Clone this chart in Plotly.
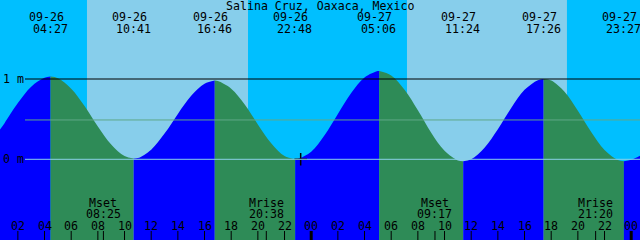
import plotly.graph_objects as go

# ---------------- data ----------------
title = "Salina Cruz, Oaxaca, Mexico"
days = ["09-26", "09-27"]

# hourly tide heights (m) (hours since 09-26 00:00)
sample_hours = [0.66, 1, 2, 3, 4, 5, 6, 7, 8, 9, 10, 11, 12, 13, 14, 15, 16, 17, 18, 19, 20,
                21, 22, 23, 24, 25, 26, 27, 28, 29, 30, 31, 32, 33, 34, 35, 36, 37, 38, 39,
                40, 41, 42, 43, 44, 45, 46, 47, 48, 48.66]
sample_heights = [0.37, 0.45, 0.70, 0.905, 1.015, 1.01, 0.88, 0.665, 0.41, 0.185, 0.04,
                  0.015, 0.12, 0.32, 0.565, 0.79, 0.94, 0.975, 0.88, 0.685, 0.435, 0.20,
                  0.04, 0.005, 0.095, 0.30, 0.565, 0.825, 1.02, 1.10, 1.045, 0.865, 0.61,
                  0.33, 0.105, -0.015, 0.0, 0.145, 0.375, 0.64, 0.865, 0.985, 0.98, 0.84,
                  0.605, 0.34, 0.115, -0.01, -0.005, 0.045]

# high / low tides
ext_dates = ["09-26", "09-26", "09-26", "09-26", "09-27", "09-27", "09-27", "09-27"]
ext_times = ["04:27", "10:41", "16:46", "22:48", "05:06", "11:24", "17:26", "23:27"]
ext_heights = [1.03, 0.01, 0.98, 0.0, 1.10, -0.025, 1.0, -0.025]

# daylight (sunrise / sunset)
sun_dates = ["09-26", "09-26", "09-27", "09-27"]
sun_times = ["07:11", "19:16", "07:11", "19:11"]

# moon events
moon_names = ["Mset", "Mrise", "Mset", "Mrise"]
moon_dates = ["09-26", "09-26", "09-27", "09-27"]
moon_times = ["08:25", "20:38", "09:17", "21:20"]

# hour ticks
tick_hours = list(range(2, 49, 2))
tick_labels = ["%02d" % (h % 24) for h in tick_hours]

now_hour = 23.21
now_height = 0.0

level_lines = [1.0, 0.49, 0.0]
level_labels = ["1 m", None, "0 m"]

# ---------------- helpers ----------------
X0, X1 = 0.66, 48.66
Y0, Y1 = -1.005, 1.984
H = 240


def to_hours(d, t):
    hh, mm = t.split(":")
    return days.index(d) * 24 + int(hh) + int(mm) / 60.0


def py(p):  # pixel row -> paper y
    return 1 - p / H


ext_hours = [to_hours(d, t) for d, t in zip(ext_dates, ext_times)]

pts = sorted(list(zip(sample_hours, sample_heights)) + list(zip(ext_hours, ext_heights)))

fig = go.Figure()

# fill segments between extremes
bounds = [X0] + ext_hours + [X1]
for a, b in zip(bounds[:-1], bounds[1:]):
    seg = [(h, v) for h, v in pts if a - 1e-9 <= h <= b + 1e-9]
    xs = [p[0] for p in seg]
    ys = [p[1] for p in seg]
    color = "#0000FF" if ys[-1] > ys[0] else "#2E8B57"
    fig.add_trace(go.Scatter(x=xs, y=[-1.2] * len(xs), mode="lines",
                             line=dict(width=0), hoverinfo="skip"))
    fig.add_trace(go.Scatter(x=xs, y=ys, mode="lines", line=dict(width=0, shape="spline"),
                             fill="tonexty", fillcolor=color, hoverinfo="skip"))

# now marker
fig.add_trace(go.Scatter(x=[now_hour], y=[now_height], mode="markers",
                         marker=dict(symbol="cross-thin", size=9,
                                     line=dict(color="black", width=1.5)),
                         hoverinfo="skip"))

shapes = []
# day / night background
sun_hours = [to_hours(d, t) for d, t in zip(sun_dates, sun_times)]
edges = [X0] + sun_hours + [X1]
for i, (a, b) in enumerate(zip(edges[:-1], edges[1:])):
    shapes.append(dict(type="rect", xref="x", yref="paper", x0=a, x1=b, y0=0, y1=1,
                       fillcolor="#00BFFF" if i % 2 == 0 else "#87CEEB",
                       line=dict(width=0), layer="below"))

# level lines
line_colors = ["black", "#5FA888", "#8AD0E8"]
for lv, c in zip(level_lines, line_colors):
    shapes.append(dict(type="line", xref="paper", yref="y", x0=25 / 640, x1=1, y0=lv, y1=lv,
                       line=dict(color=c, width=1), layer="above"))

# hour ticks
for h in tick_hours:
    w = 3 if h % 24 == 0 else 1
    shapes.append(dict(type="line", xref="x", yref="paper", x0=h, x1=h, y0=py(231), y1=0,
                       line=dict(color="black", width=w), layer="above"))

moon_hours = [to_hours(d, t) for d, t in zip(moon_dates, moon_times)]
for h in moon_hours:
    shapes.append(dict(type="line", xref="x", yref="paper", x0=h, x1=h, y0=py(231), y1=0,
                       line=dict(color="black", width=1), layer="above"))

font = dict(family="DejaVu Sans Mono", size=11.6, color="black")
ann = []
ann.append(dict(text=title, x=0.5, xref="paper", y=py(6), yref="paper", showarrow=False,
                font=font, xanchor="center", yanchor="middle"))
for h, d, t in zip(ext_hours, ext_dates, ext_times):
    ann.append(dict(text=d, x=h, xref="x", y=py(17.5), yref="paper", showarrow=False,
                    font=font, xanchor="center", yanchor="middle", xshift=-4.5))
    ann.append(dict(text=t, x=h, xref="x", y=py(29), yref="paper", showarrow=False,
                    font=font, xanchor="center", yanchor="middle", xshift=-0.5))
for lv, lab in zip(level_lines, level_labels):
    if lab:
        ann.append(dict(text=lab, x=1 / 640, xref="paper", y=lv, yref="y", showarrow=False,
                        font=font, xanchor="left", yanchor="middle"))
for h, lab in zip(tick_hours, tick_labels):
    ann.append(dict(text=lab, x=h, xref="x", y=py(226), yref="paper", showarrow=False,
                    font=font, xanchor="center", yanchor="middle"))
for h, n, t in zip(moon_hours, moon_names, moon_times):
    ann.append(dict(text=n, x=h, xref="x", y=py(202.5), yref="paper", showarrow=False,
                    font=font, xanchor="center", yanchor="middle"))
    ann.append(dict(text=t, x=h, xref="x", y=py(213.5), yref="paper", showarrow=False,
                    font=font, xanchor="center", yanchor="middle"))

fig.update_layout(width=640, height=240, margin=dict(l=0, r=0, t=0, b=0),
                  paper_bgcolor="#00BFFF", plot_bgcolor="#00BFFF", showlegend=False,
                  xaxis=dict(range=[X0, X1], visible=False, fixedrange=True),
                  yaxis=dict(range=[Y0, Y1], visible=False, fixedrange=True),
                  shapes=shapes, annotations=ann)

fig.write_html("out.html", config={"displayModeBar": False})
